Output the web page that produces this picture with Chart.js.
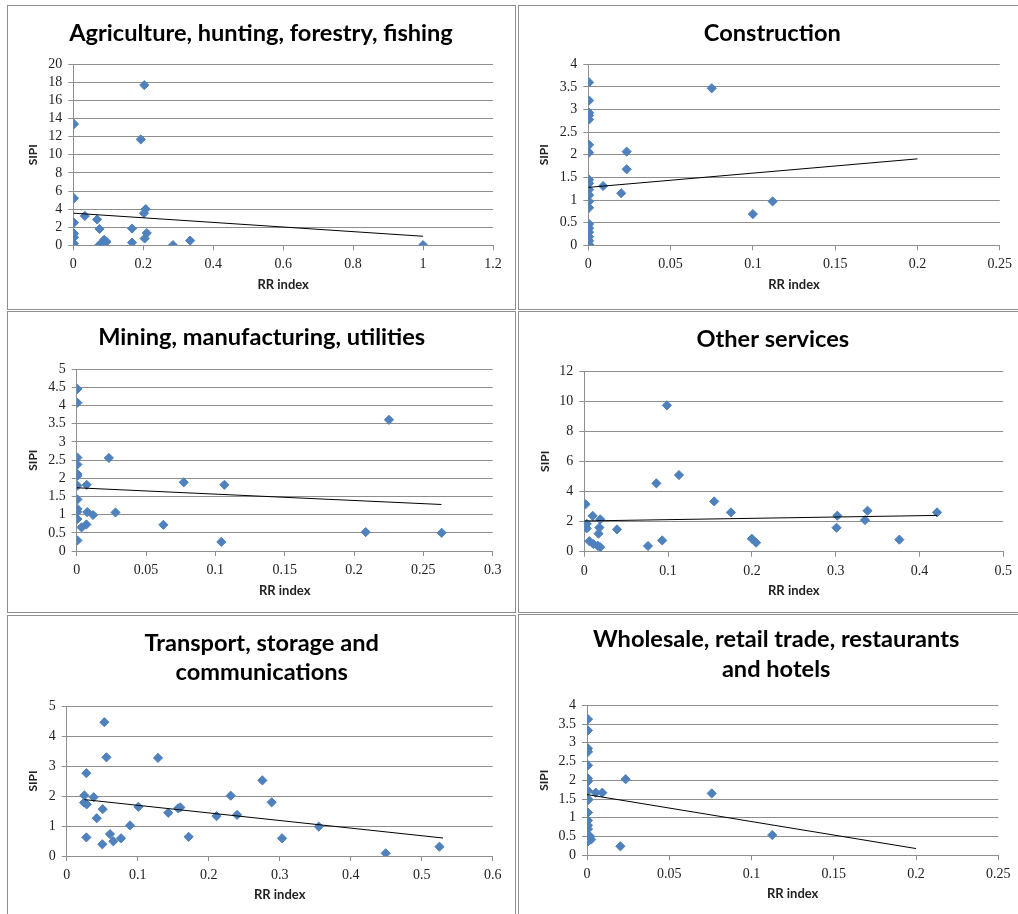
<!DOCTYPE html>
<html>
<head>
<meta charset="utf-8">
<style>
body { margin: 0; background: #fff; width: 1018px; height: 914px; overflow: hidden; position: relative; }
.panel { position: absolute; border: 1px solid #8e8e8e; background: #fff; }
.panel canvas { position: absolute; left: 0; top: 0; }
</style>
<script src="https://cdn.jsdelivr.net/npm/chart.js@4.4.1/dist/chart.umd.min.js"></script>
</head>
<body>
<div class="panel" style="left:7px;top:5px;width:507px;height:303px"><canvas id="chart1" width="507" height="303"></canvas></div>
<div class="panel" style="left:518px;top:5px;width:499px;height:303px"><canvas id="chart2" width="499" height="303"></canvas></div>
<div class="panel" style="left:7px;top:311px;width:507px;height:300px"><canvas id="chart3" width="507" height="300"></canvas></div>
<div class="panel" style="left:518px;top:311px;width:499px;height:300px"><canvas id="chart4" width="499" height="300"></canvas></div>
<div class="panel" style="left:7px;top:615px;width:507px;height:300px"><canvas id="chart5" width="507" height="300"></canvas></div>
<div class="panel" style="left:518px;top:614px;width:499px;height:300px"><canvas id="chart6" width="499" height="300"></canvas></div>
<script>
// Agriculture, hunting, forestry, fishing
const agriRR   = [0.002, 0.002, 0.002, 0.002, 0.002, 0.002, 0.033, 0.068, 0.075, 0.074, 0.080, 0.088, 0.095, 0.168, 0.168, 0.193, 0.203, 0.202, 0.207, 0.210, 0.204, 0.285, 0.334, 1.0];
const agriSIPI = [13.4, 5.2, 2.5, 1.3, 0.9, 0.2, 3.25, 2.85, 1.8, 0.02, 0.2, 0.6, 0.4, 1.85, 0.3, 11.7, 17.7, 3.55, 4.0, 1.35, 0.75, 0.02, 0.52, 0.02];
const agriTrendRR = [0, 1];
const agriTrendSIPI = [3.55, 1.0];

// Construction
const consRR   = [0.0005, 0.0005, 0.0005, 0.0005, 0.0005, 0.0005, 0.0005, 0.0005, 0.0005, 0.0005, 0.0005, 0.0005, 0.0005, 0.0005, 0.0005, 0.0005, 0.0005, 0.0005, 0.0005, 0.009, 0.020, 0.0233, 0.0233, 0.075, 0.100, 0.112];
const consSIPI = [3.6, 3.2, 2.93, 2.87, 2.78, 2.22, 2.05, 1.45, 1.37, 1.23, 1.11, 0.97, 0.83, 0.47, 0.38, 0.29, 0.19, 0.1, 0.02, 1.31, 1.15, 2.07, 1.68, 3.47, 0.69, 0.97];
const consTrendRR = [0, 0.2];
const consTrendSIPI = [1.28, 1.91];

// Mining, manufacturing, utilities
const minRR   = [0.0005, 0.0005, 0.0005, 0.0005, 0.0005, 0.0005, 0.0005, 0.0005, 0.0005, 0.0005, 0.0005, 0.0005, 0.0072, 0.0076, 0.0118, 0.0035, 0.007, 0.0232, 0.028, 0.0625, 0.0772, 0.1065, 0.1043, 0.2084, 0.2252, 0.2632];
const minSIPI = [4.46, 4.08, 2.57, 2.38, 2.12, 2.07, 1.8, 1.42, 1.16, 1.08, 0.88, 0.29, 1.82, 1.07, 0.99, 0.65, 0.73, 2.56, 1.06, 0.72, 1.89, 1.82, 0.25, 0.52, 3.61, 0.5];
const minTrendRR = [0, 0.263];
const minTrendSIPI = [1.74, 1.28];

// Other services
const othRR   = [0.0015, 0.003, 0.003, 0.010, 0.019, 0.018, 0.017, 0.006, 0.011, 0.016, 0.019, 0.039, 0.076, 0.086, 0.093, 0.0986, 0.113, 0.155, 0.175, 0.200, 0.205, 0.302, 0.301, 0.335, 0.338, 0.376, 0.421];
const othSIPI = [3.15, 1.85, 1.55, 2.38, 2.15, 1.6, 1.2, 0.7, 0.5, 0.4, 0.3, 1.48, 0.38, 4.54, 0.75, 9.72, 5.09, 3.34, 2.61, 0.86, 0.6, 2.39, 1.59, 2.1, 2.72, 0.8, 2.61];
const othTrendRR = [0, 0.421];
const othTrendSIPI = [2.04, 2.41];

// Transport, storage and communications
const tranRR   = [0.053, 0.056, 0.1286, 0.0277, 0.0249, 0.038, 0.0244, 0.0282, 0.0507, 0.0423, 0.0277, 0.0502, 0.061, 0.0657, 0.0765, 0.0892, 0.101, 0.143, 0.157, 0.160, 0.1718, 0.211, 0.231, 0.240, 0.2756, 0.2887, 0.3033, 0.355, 0.4493, 0.525];
const tranSIPI = [4.46, 3.29, 3.27, 2.76, 2.02, 1.96, 1.78, 1.72, 1.56, 1.26, 0.62, 0.39, 0.73, 0.49, 0.59, 1.02, 1.64, 1.44, 1.59, 1.62, 0.64, 1.33, 2.01, 1.37, 2.52, 1.79, 0.59, 0.98, 0.09, 0.31];
const tranTrendRR = [0.025, 0.53];
const tranTrendSIPI = [1.88, 0.6];

// Wholesale, retail trade, restaurants and hotels
const wholRR   = [0.0006, 0.0006, 0.0006, 0.0006, 0.0006, 0.0006, 0.0006, 0.0006, 0.0006, 0.0006, 0.0006, 0.0006, 0.0006, 0.0006, 0.002, 0.0025, 0.0006, 0.0053, 0.0093, 0.0235, 0.0203, 0.0758, 0.1126];
const wholSIPI = [3.63, 3.33, 2.85, 2.76, 2.4, 2.05, 1.97, 1.72, 1.5, 1.47, 1.14, 0.93, 0.8, 0.7, 0.5, 0.42, 0.37, 1.67, 1.67, 2.03, 0.24, 1.65, 0.54];
const wholTrendRR = [0, 0.2];
const wholTrendSIPI = [1.62, 0.18];

const gridColor = '#8e8e8e';
const markerColor = '#4F81BD';
const textColor = '#222';

const toPoints = (xs, ys) => xs.map((x, i) => ({x: x, y: ys[i]}));

function makeConfig(p) {
  return {
    type: 'scatter',
    data: {
      datasets: [
        {
          data: toPoints(p.trendX, p.trendY),
          showLine: true,
          borderColor: '#000',
          borderWidth: 1,
          pointRadius: 0
        },
        {
          data: toPoints(p.x, p.y),
          pointStyle: 'rectRot',
          pointRadius: 4.6,
          backgroundColor: markerColor,
          borderColor: markerColor,
          borderWidth: 1
        }
      ]
    },
    options: {
      responsive: false,
      animation: false,
      events: [],
      // left padding only re-centres the title; plot left edge = padLeft + yWidth
      layout: { padding: { left: p.padLeft, top: 0, bottom: 0, right: p.padRight } },
      plugins: {
        legend: { display: false },
        tooltip: { enabled: false },
        title: {
          display: true,
          text: p.title,
          color: '#000',
          font: { family: 'Lato', weight: 'bold', size: 23.6, lineHeight: p.titleLH },
          padding: { top: p.titleTop, bottom: p.titleBottom }
        }
      },
      scales: {
        x: {
          type: 'linear',
          min: 0,
          max: p.xMax,
          afterFit: s => { s.height = p.xHeight; },
          ticks: {
            stepSize: p.xStep,
            padding: 6,
            maxRotation: 0,
            autoSkip: false,
            color: textColor,
            font: { family: 'Liberation Serif', size: 14 },
            callback: v => String(Math.round(v * 1000) / 1000)
          },
          grid: { drawOnChartArea: false, tickLength: 5, color: gridColor },
          border: { color: gridColor },
          title: {
            display: true,
            text: 'RR index',
            color: textColor,
            font: { family: 'Lato', weight: 'bold', size: 13 },
            padding: { top: 0, bottom: p.xTitleBottom }
          }
        },
        y: {
          min: 0,
          max: p.yMax,
          afterFit: s => { s.width = p.yLeft - p.padLeft; },
          ticks: {
            stepSize: p.yStep,
            padding: 6,
            autoSkip: false,
            color: textColor,
            font: { family: 'Liberation Serif', size: 14 },
            callback: v => String(Math.round(v * 1000) / 1000)
          },
          grid: { tickLength: 5, color: gridColor },
          border: { color: gridColor },
          title: {
            display: true,
            text: 'SIPI',
            color: textColor,
            font: { family: 'Lato', weight: 'bold', size: 12, lineHeight: '14px' },
            padding: { top: p.yTitleX - p.padLeft - 7, bottom: 0 }
          }
        }
      }
    }
  };
}

const config1 = makeConfig({
  title: 'Agriculture, hunting, forestry, fishing', titleLH: '26.4px', titleTop: 13.8, titleBottom: 18.1,
  x: agriRR, y: agriSIPI, trendX: agriTrendRR, trendY: agriTrendSIPI,
  xMax: 1.2, xStep: 0.2, yMax: 20, yStep: 2,
  padLeft: 21, padRight: 22, xHeight: 63.7, yLeft: 65.3, xTitleBottom: 16.8, yTitleX: 25
});
const config2 = makeConfig({
  title: 'Construction', titleLH: '26.4px', titleTop: 14.1, titleBottom: 17.8,
  x: consRR, y: consSIPI, trendX: consTrendRR, trendY: consTrendSIPI,
  xMax: 0.25, xStep: 0.05, yMax: 4, yStep: 0.5,
  padLeft: 25.3, padRight: 17.7, xHeight: 63.7, yLeft: 69.3, xTitleBottom: 16.8, yTitleX: 25.3
});
const config3 = makeConfig({
  title: 'Mining, manufacturing, utilities', titleLH: '26.4px', titleTop: 12.5, titleBottom: 18.4,
  x: minRR, y: minSIPI, trendX: minTrendRR, trendY: minTrendSIPI,
  xMax: 0.3, xStep: 0.05, yMax: 5, yStep: 0.5,
  padLeft: 22.7, padRight: 22.3, xHeight: 61, yLeft: 68.7, xTitleBottom: 13.8, yTitleX: 25.3
});
const config4 = makeConfig({
  title: 'Other services', titleLH: '26.4px', titleTop: 14.1, titleBottom: 18.5,
  x: othRR, y: othSIPI, trendX: othTrendRR, trendY: othTrendSIPI,
  xMax: 0.5, xStep: 0.1, yMax: 12, yStep: 2,
  padLeft: 22.9, padRight: 14.3, xHeight: 60.3, yLeft: 65.3, xTitleBottom: 13.1, yTitleX: 26
});
const config5 = makeConfig({
  title: ['Transport, storage and', 'communications'], titleLH: '29.4px', titleTop: 12.6, titleBottom: 18.6,
  x: tranRR, y: tranSIPI, trendX: tranTrendRR, trendY: tranTrendSIPI,
  xMax: 0.6, xStep: 0.1, yMax: 5, yStep: 1,
  padLeft: 22.7, padRight: 22.3, xHeight: 60, yLeft: 58.7, xTitleBottom: 13.8, yTitleX: 25.3
});
const config6 = makeConfig({
  title: ['Wholesale, retail trade, restaurants', 'and hotels'], titleLH: '29.7px', titleTop: 9.5, titleBottom: 21.4,
  x: wholRR, y: wholSIPI, trendX: wholTrendRR, trendY: wholTrendSIPI,
  xMax: 0.25, xStep: 0.05, yMax: 4, yStep: 0.5,
  padLeft: 35, padRight: 19.7, xHeight: 59.7, yLeft: 68, xTitleBottom: 13.5, yTitleX: 25.3
});

const myChart1 = new Chart(document.getElementById('chart1').getContext('2d'), config1);
const myChart2 = new Chart(document.getElementById('chart2').getContext('2d'), config2);
const myChart3 = new Chart(document.getElementById('chart3').getContext('2d'), config3);
const myChart4 = new Chart(document.getElementById('chart4').getContext('2d'), config4);
const myChart5 = new Chart(document.getElementById('chart5').getContext('2d'), config5);
const myChart6 = new Chart(document.getElementById('chart6').getContext('2d'), config6);
</script>
</body>
</html>
